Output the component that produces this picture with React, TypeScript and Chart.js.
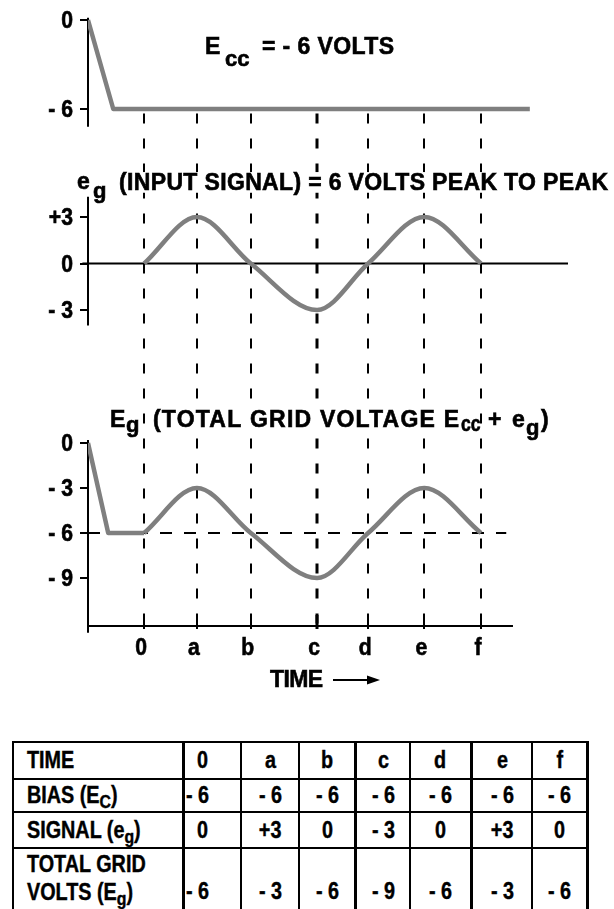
import React, { useEffect, useRef } from "react";
import { Chart, registerables } from "chart.js";

Chart.register(...registerables);

// ---------------- data ----------------
const TIME_LABELS = ["0", "a", "b", "c", "d", "e", "f"];
const TIME_POS = [0, 0.94, 1.9, 3.08, 3.99, 4.99, 6.0];
const BIAS_VALUES = [-6, -6, -6, -6, -6, -6, -6];
const SIGNAL_VALUES = [0, 3, 0, -3, 0, 3, 0];
const TOTAL_VALUES = [-6, -3, -6, -9, -6, -3, -6];

// switch-on of the bias supply (time, volts)
const BIAS_TRACE_T = [-1, -0.55, 6.87];
const BIAS_TRACE_V = [0, -6, -6];
const TOTAL_LEAD_T = [-1, -0.64, 0];
const TOTAL_LEAD_V = [0, -6, -6];
const BIAS_REF_T = [-1, 6.45];
const BIAS_REF_V = [-6, -6];

const TOP_TICKS = [0, -6];
const TOP_TICK_LABELS = ["0", "- 6"];
const MID_TICKS = [3, 0, -3];
const MID_TICK_LABELS = ["+3", "0", "- 3"];
const BOT_TICKS = [0, -3, -6, -9];
const BOT_TICK_LABELS = ["0", "- 3", "- 6", "- 9"];

// ---------------- layout ----------------
const W = 614;
const CH = 720;
const PAD_L = 88;
const PAD_R = 46;
const X_MIN = -1;
const X_MAX = 7.55;

function rangeFor(v1: number, p1: number, v2: number, p2: number) {
  const k = (p2 - p1) / (v1 - v2);
  return { min: v2 - (CH - p2) / k, max: v1 + p1 / k };
}
const TOP_RANGE = rangeFor(0, 20, -6, 109);
const MID_RANGE = rangeFor(3, 217, -3, 310);
const BOT_RANGE = rangeFor(0, 443, -9, 578);

const TOP_AXIS = [0.15, -7.2];
const MID_AXIS = [4.3, -4.0];
const BOT_AXIS = [0.2, -12.65];
const X_AXIS_V = -12.2;
const X_AXIS_END = 6.57;
const ZERO_LINE = [-1.1, 7.55];
const DASH_TOP_V = -6.3;
const EMPH = 3;

const GRAY = "#7f7f7f";
const FONT = '"Liberation Sans", Arial, Helvetica, sans-serif';
const CONDENSE = 0.92;

type Seg = { t: string; x: number; y: number; s: number; w?: number; cx?: number; bg?: boolean };
const TITLE_SEGS: Seg[] = [
  { t: "E", x: 205, y: 54, s: 23, cx: 1 },
  { t: "cc", x: 225, y: 66, s: 22, cx: 1 },
  { t: "= - 6 VOLTS", x: 262, y: 54, s: 23, w: 132, cx: 1 },
  { t: "e", x: 77, y: 189, s: 23, cx: 1 },
  { t: "g", x: 93, y: 198, s: 22, cx: 1 },
  { t: "(INPUT SIGNAL) = 6 VOLTS PEAK TO PEAK", x: 119, y: 190, s: 23, w: 489, cx: 1, bg: true },
  { t: "E", x: 110, y: 427, s: 23, cx: 1 },
  { t: "g", x: 126, y: 432, s: 22, cx: 1 },
  { t: "(TOTAL GRID VOLTAGE E", x: 153, y: 427, s: 23, w: 306, cx: 1, bg: true },
  { t: "cc", x: 461, y: 431, s: 22, cx: 0.8 },
  { t: "+", x: 488, y: 427, s: 23, cx: 1 },
  { t: "e", x: 512, y: 427, s: 23, cx: 1 },
  { t: "g", x: 526, y: 435, s: 22, cx: 1 },
  { t: ")", x: 541, y: 427, s: 23, cx: 1 },
  { t: "TIME", x: 270, y: 687, s: 23, w: 53, cx: 1 },
];

function drawText(ctx: any, s: string, x: number, y: number, size: number, align: string, w?: number, cx = CONDENSE, bg = false) {
  ctx.save();
  ctx.font = `bold ${size}px ${FONT}`;
  ctx.textAlign = align;
  ctx.textBaseline = "alphabetic";
  ctx.translate(x, y);
  const m = ctx.measureText(s).width;
  let scale = cx;
  if (w) {
    if ("letterSpacing" in ctx && s.length > 1) {
      ctx.letterSpacing = (w / cx - m) / (s.length - 1) + "px";
    } else {
      scale = w / m;
    }
  }
  if (bg && w) {
    ctx.fillStyle = "#fff";
    ctx.fillRect(-2, -size * 0.78, w + 4, size * 0.9);
  }
  ctx.scale(scale, 1);
  ctx.fillStyle = "#000";
  ctx.strokeStyle = "#000";
  ctx.lineWidth = 0.6;
  ctx.fillText(s, 0, 0);
  ctx.strokeText(s, 0, 0);
  ctx.restore();
}

function seg(ctx: any, x1: number, y1: number, x2: number, y2: number) {
  ctx.beginPath();
  ctx.moveTo(x1, y1);
  ctx.lineTo(x2, y2);
  ctx.stroke();
}

const overlay = {
  id: "overlay",
  beforeDatasetsDraw(chart: any) {
    const ctx = chart.ctx;
    const x = chart.scales.x;
    const yT = chart.scales.yTop;
    const yM = chart.scales.yMid;
    const yB = chart.scales.yBot;
    ctx.save();
    ctx.strokeStyle = "#000";
    ctx.lineCap = "butt";

    // dashed time markers
    const yStart = yT.getPixelForValue(DASH_TOP_V);
    const yEnd = yB.getPixelForValue(X_AXIS_V);
    TIME_POS.forEach((t, i) => {
      const px = Math.round(x.getPixelForValue(t));
      ctx.lineWidth = i === EMPH ? 3 : 2;
      ctx.setLineDash([10, 15]);
      seg(ctx, px, yStart, px, yEnd);
      ctx.setLineDash([]);
      seg(ctx, px, yEnd - 11, px, yEnd + 3);
    });

    ctx.setLineDash([]);
    ctx.lineWidth = 2;
    const ax = x.getPixelForValue(X_MIN);
    // vertical axes
    seg(ctx, ax, yT.getPixelForValue(TOP_AXIS[0]), ax, yT.getPixelForValue(TOP_AXIS[1]));
    seg(ctx, ax, yM.getPixelForValue(MID_AXIS[0]), ax, yM.getPixelForValue(MID_AXIS[1]));
    seg(ctx, ax, yB.getPixelForValue(BOT_AXIS[0]), ax, yB.getPixelForValue(BOT_AXIS[1]));
    // zero line of the signal
    seg(ctx, x.getPixelForValue(ZERO_LINE[0]), yM.getPixelForValue(0), x.getPixelForValue(ZERO_LINE[1]), yM.getPixelForValue(0));
    // time axis
    seg(ctx, ax, yEnd, x.getPixelForValue(X_AXIS_END), yEnd);

    // y ticks + labels
    const yTicks: [any, number[], string[]][] = [
      [yT, TOP_TICKS, TOP_TICK_LABELS],
      [yM, MID_TICKS, MID_TICK_LABELS],
      [yB, BOT_TICKS, BOT_TICK_LABELS],
    ];
    yTicks.forEach(([sc, vals, labs]) => {
      vals.forEach((v, i) => {
        const py = Math.round(sc.getPixelForValue(v));
        ctx.lineWidth = 2;
        seg(ctx, ax - 8, py, ax, py);
        drawText(ctx, labs[i], ax - 15, py + 8, 23, "right");
      });
    });

    // x labels
    TIME_POS.forEach((t, i) => {
      drawText(ctx, TIME_LABELS[i], x.getPixelForValue(t) - 3, yEnd + 29, 23, "center");
    });

    // titles
    TITLE_SEGS.forEach((s) => drawText(ctx, s.t, s.x, s.y, s.s, "left", s.w, s.cx ?? CONDENSE, !!s.bg));

    // arrow after TIME
    ctx.lineWidth = 2;
    seg(ctx, 333, 680, 369, 680);
    ctx.fillStyle = "#000";
    ctx.beginPath();
    ctx.moveTo(367, 675.5);
    ctx.lineTo(380, 680);
    ctx.lineTo(367, 684.5);
    ctx.closePath();
    ctx.fill();
    ctx.restore();
  },
};

const fmt = (v: number) => (v > 0 ? "+" + v : v < 0 ? "- " + -v : "0");

const COL_W = [168, 58, 58, 56, 55, 61, 61, 55];
const ROW_H = [35, 33, 36, 92];
const THICK_BEFORE = [1, 4, 6];

export default function App() {
  const ref = useRef<HTMLCanvasElement>(null);

  useEffect(() => {
    const pts = (xs: number[], ys: number[]) => xs.map((t, i) => ({ x: t, y: ys[i] }));
    const trace = { borderColor: GRAY, borderWidth: 4.5, pointRadius: 0, borderJoinStyle: "round", order: 1 };
    const chart = new Chart(ref.current as HTMLCanvasElement, {
      type: "line",
      data: {
        datasets: [
          { ...trace, data: pts(BIAS_TRACE_T, BIAS_TRACE_V), yAxisID: "yTop", tension: 0 },
          { ...trace, data: pts(TIME_POS, SIGNAL_VALUES), yAxisID: "yMid", cubicInterpolationMode: "monotone" },
          { ...trace, data: pts(TOTAL_LEAD_T, TOTAL_LEAD_V), yAxisID: "yBot", tension: 0 },
          { ...trace, data: pts(TIME_POS, TOTAL_VALUES), yAxisID: "yBot", cubicInterpolationMode: "monotone" },
          {
            data: pts(BIAS_REF_T, BIAS_REF_V),
            yAxisID: "yBot",
            borderColor: "#000",
            borderWidth: 2,
            borderDash: [12, 12],
            tension: 0,
            pointRadius: 0,
            order: 2,
          },
        ],
      } as any,
      options: {
        responsive: false,
        animation: false,
        devicePixelRatio: 1,
        events: [],
        layout: { padding: { left: PAD_L, right: PAD_R, top: 0, bottom: 0 } },
        plugins: { legend: { display: false }, tooltip: { enabled: false } },
        scales: {
          x: { type: "linear", min: X_MIN, max: X_MAX, display: false, bounds: "data" },
          yTop: { type: "linear", axis: "y", position: "left", min: TOP_RANGE.min, max: TOP_RANGE.max, display: false, bounds: "data" },
          yMid: { type: "linear", axis: "y", position: "left", min: MID_RANGE.min, max: MID_RANGE.max, display: false, bounds: "data" },
          yBot: { type: "linear", axis: "y", position: "left", min: BOT_RANGE.min, max: BOT_RANGE.max, display: false, bounds: "data" },
        },
      } as any,
      plugins: [overlay],
    });
    return () => chart.destroy();
  }, []);

  const rows: { label: React.ReactNode; values: string[] }[] = [
    { label: "TIME", values: TIME_LABELS },
    { label: <>BIAS (E<sub style={subStyle}>C</sub>)</>, values: BIAS_VALUES.map(fmt) },
    { label: <>SIGNAL (e<sub style={subStyle}>g</sub>)</>, values: SIGNAL_VALUES.map(fmt) },
    {
      label: (
        <>
          TOTAL GRID
          <br />
          VOLTS (E<sub style={subStyle}>g</sub>)
        </>
      ),
      values: TOTAL_VALUES.map(fmt),
    },
  ];

  return (
    <div style={{ position: "absolute", left: 0, top: 0, width: W, height: 909, overflow: "hidden", background: "#fff" }}>
      <canvas ref={ref} width={W} height={CH} style={{ position: "absolute", left: 0, top: 0, width: W, height: CH }} />
      <div
        style={{
          position: "absolute",
          left: 12,
          top: 741,
          display: "grid",
          gridTemplateColumns: COL_W.map((w) => w + "px").join(" "),
          gridTemplateRows: ROW_H.map((h) => h + "px").join(" "),
          borderTop: "2px solid #000",
          borderLeft: "2px solid #000",
          borderRight: "3px solid #000",
          fontFamily: FONT,
          fontWeight: "bold",
          fontSize: 23,
          color: "#000",
          WebkitTextStroke: "0.4px #000",
        }}
      >
        {rows.map((row, r) =>
          [row.label, ...row.values].map((content, c) => {
            const last = r === 3;
            const val = typeof content === "string" ? content : "";
            const left = c <= 1;
            return (
              <div
                key={r + "-" + c}
                style={{
                  boxSizing: "border-box",
                  borderTop: r === 0 ? "none" : "2px solid #000",
                  borderLeft: c === 0 ? "none" : THICK_BEFORE.includes(c) ? "3px solid #000" : "2px solid #000",
                  display: "flex",
                  alignItems: last ? "flex-start" : "center",
                  justifyContent: left ? "flex-start" : "center",
                  paddingLeft: c === 0 ? 13 : c === 1 ? (val.startsWith("-") ? 1 : 12) : 0,
                  paddingTop: last ? (c > 0 ? 28 : 1) : 0,
                  lineHeight: last ? "28px" : "normal",
                  whiteSpace: "nowrap",
                }}
              >
                <span
                  style={{
                    display: "inline-block",
                    transform: "scaleX(0.86)",
                    transformOrigin: left ? "left center" : "center center",
                  }}
                >
                  {content}
                </span>
              </div>
            );
          })
        )}
      </div>
    </div>
  );
}

const subStyle: React.CSSProperties = { fontSize: "0.8em", verticalAlign: "-0.25em", lineHeight: 0 };
